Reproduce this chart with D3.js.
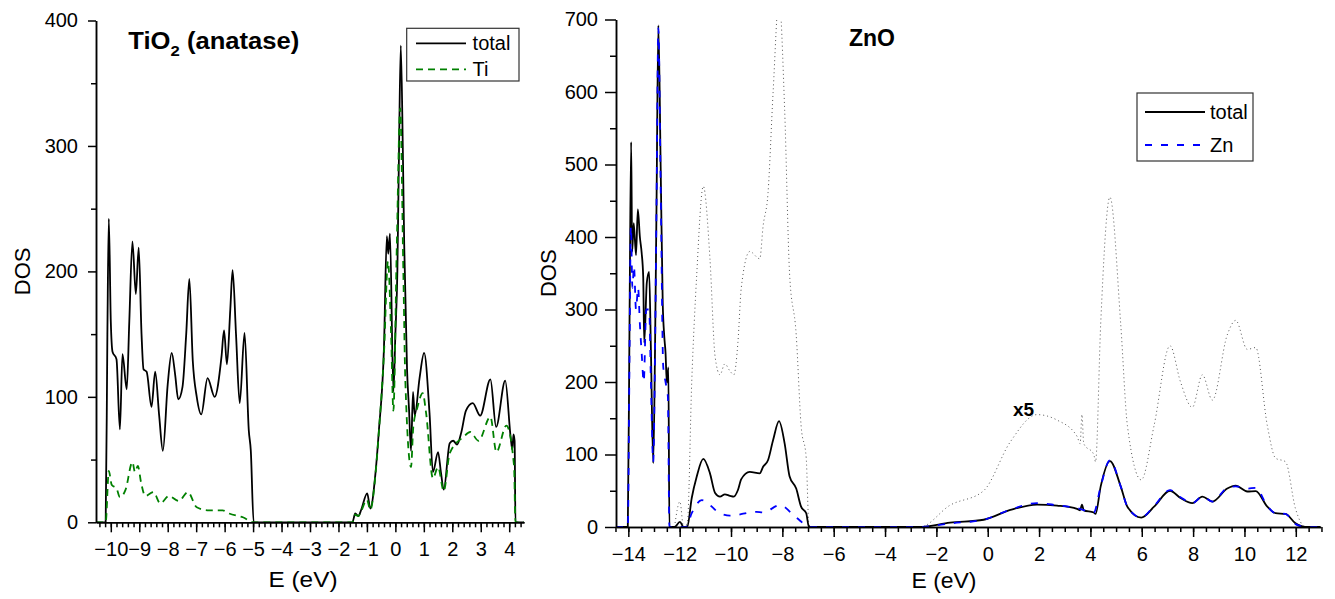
<!DOCTYPE html>
<html>
<head>
<meta charset="utf-8">
<script src="https://cdn.jsdelivr.net/npm/d3@7"></script>
<style>
  body { margin: 0; background: #fff; }
  svg { font-family: "Liberation Sans", Arial, sans-serif; }
  .axis path, .axis line { stroke: #000; stroke-width: 1.5; }
  .axis text { font-size: 20px; fill: #000; }
</style>
</head>
<body>
<svg id="chart" width="1335" height="599"></svg>
<script>
// TiO2 (anatase): [E (eV), DOS]
const tioTotal = [[-10.52,0],[-10.18,0],[-10.12,150],[-10.07,242],[-10.0,160],[-9.94,136],[-9.8,130],[-9.68,74],[-9.59,134],[-9.44,106],[-9.35,160],[-9.24,224],[-9.12,182],[-9.02,219],[-8.92,150],[-8.85,122],[-8.74,120],[-8.57,92],[-8.44,120],[-8.3,85],[-8.17,57],[-8.0,110],[-7.86,135],[-7.74,118],[-7.63,98],[-7.48,108],[-7.35,150],[-7.24,194],[-7.12,129],[-6.98,100],[-6.82,86],[-6.6,115],[-6.35,100],[-6.11,132],[-6.02,153],[-5.92,126],[-5.8,170],[-5.72,201],[-5.6,150],[-5.47,95],[-5.3,151],[-5.15,73],[-5.08,57],[-4.98,0],[-1.51,0],[-1.41,7],[-1.3,5],[-1.2,10],[-0.99,23],[-0.88,11],[-0.7,39],[-0.58,73],[-0.4,140],[-0.3,228],[-0.25,214],[-0.19,230],[-0.07,104],[0.0,150],[0.07,200],[0.13,300],[0.19,380],[0.26,300],[0.31,222],[0.41,122],[0.48,90],[0.55,57],[0.62,104],[0.68,85],[0.85,115],[1.01,135],[1.2,87],[1.32,40],[1.5,56],[1.6,40],[1.7,26],[1.91,63],[2.03,65],[2.17,62],[2.32,72],[2.48,89],[2.72,95],[2.98,85],[3.34,114],[3.54,76],[3.86,113],[4.05,68],[4.11,58],[4.15,70],[4.19,65],[4.22,0],[4.52,0]];
const tioTi = [[-10.52,0],[-10.18,0],[-10.07,41],[-9.97,30],[-9.8,27],[-9.68,20],[-9.48,26],[-9.24,48],[-9.15,40],[-9.05,45],[-8.93,31],[-8.79,21],[-8.5,24],[-8.26,15],[-7.96,21],[-7.61,17],[-7.29,24],[-6.98,12],[-6.55,9.5],[-6.07,9.5],[-5.84,7],[-5.36,4],[-4.98,0],[-1.51,0],[-1.41,6],[-1.3,5],[-1.2,9],[-1.0,18],[-0.88,10],[-0.7,38],[-0.58,72],[-0.4,135],[-0.26,208],[-0.15,150],[-0.07,89],[0.05,220],[0.17,330],[0.28,200],[0.35,113],[0.55,44],[0.63,76],[0.78,92],[0.96,103],[1.08,87],[1.32,35],[1.5,44],[1.7,25],[1.91,55],[2.39,68],[2.63,72],[2.92,65],[3.34,84],[3.55,56],[3.9,77],[4.17,45],[4.22,0],[4.52,0]];

// ZnO: [E (eV), DOS]
const znoTotal = [[-14.48,0],[-14.02,0],[-13.95,300],[-13.89,531],[-13.85,380],[-13.79,419],[-13.7,375],[-13.63,438],[-13.55,400],[-13.48,378],[-13.42,345],[-13.38,254],[-13.28,337],[-13.19,352],[-13.12,244],[-13.03,88],[-12.96,244],[-12.9,450],[-12.83,692],[-12.74,497],[-12.66,309],[-12.6,263],[-12.55,240],[-12.5,199],[-12.44,220],[-12.4,0],[-12.2,0],[-11.99,7],[-11.85,0],[-11.7,1],[-11.53,40],[-11.34,69],[-11.08,94],[-10.82,74],[-10.62,47],[-10.43,42],[-10.24,45],[-10.04,43],[-9.89,42],[-9.73,51],[-9.6,66],[-9.27,76],[-8.88,74],[-8.75,83],[-8.56,92],[-8.36,120],[-8.13,146],[-7.91,115],[-7.72,70],[-7.46,53],[-7.27,28],[-7.07,19],[-6.97,1],[-6.9,0],[-2.64,0],[-1.47,6],[-0.16,10],[0.88,23.5],[1.92,31],[2.7,29.5],[3.48,25],[3.6,23],[3.67,31],[3.74,23],[4.13,20],[4.2,18],[4.4,56],[4.76,91],[5.18,56],[5.44,28],[5.98,13],[6.48,28],[7.1,50],[7.51,40],[7.97,33],[8.36,42],[8.75,35],[9.33,53],[9.66,57],[10.11,49],[10.44,49.5],[10.89,28],[11.21,19],[11.6,18],[11.99,5],[12.38,0],[12.97,0]];
const znoZn = [[-14.48,0],[-14.02,0],[-13.95,250],[-13.9,415],[-13.84,330],[-13.78,360],[-13.7,300],[-13.62,330],[-13.55,280],[-13.48,240],[-13.4,200],[-13.3,300],[-13.19,300],[-13.12,200],[-13.03,90],[-12.96,240],[-12.9,450],[-12.83,688],[-12.74,470],[-12.64,221],[-12.55,200],[-12.46,180],[-12.4,0],[-11.75,0],[-11.53,19],[-11.14,37],[-10.43,19],[-10.04,15.6],[-9.01,21],[-8.75,20],[-8.1,30],[-7.46,13],[-7.0,1],[-6.9,0],[-2.64,0],[-1.47,5],[-0.16,10],[0.88,24],[1.92,33],[2.7,30],[3.48,26],[4.13,20],[4.4,56],[4.76,92],[5.18,56],[5.44,28],[5.98,13],[6.48,29],[7.1,51],[7.51,41],[7.97,33],[8.36,42],[8.75,35],[9.33,54],[9.66,56],[10.11,53],[10.44,54],[10.89,29],[11.21,19],[11.6,18],[11.99,4],[12.38,0],[12.97,0]];
// dotted curve is the total magnified x5 (drawn from this energy on)
const zoomFactor = 5;
const zoomStart = -12.3;

const tioTicks = d3.range(-10, 5, 1);
const znoTicks = d3.range(-14, 13, 2);

const svg = d3.select("#chart");

function drawPanel(p) {
  const x = d3.scaleLinear().domain(p.xDomain).range(p.xRange);
  const y = d3.scaleLinear().domain(p.yDomain).range(p.yRange);

  svg.append("clipPath").attr("id", p.id + "-clip")
    .append("rect")
    .attr("x", p.xRange[0]).attr("y", p.yRange[1])
    .attr("width", p.xRange[1] - p.xRange[0])
    .attr("height", p.yRange[0] - p.yRange[1]);

  const g = svg.append("g").attr("clip-path", `url(#${p.id}-clip)`);
  const line = d3.line().x(d => x(d[0])).y(d => y(d[1])).curve(d3.curveMonotoneX);

  if (p.zoomed) {
    const zoomLine = d3.line().x(d => x(d[0])).y(d => y(d[1] * zoomFactor)).curve(d3.curveMonotoneX);
    g.append("path")
      .datum(p.zoomed)
      .attr("d", zoomLine)
      .attr("fill", "none")
      .attr("stroke", "#555")
      .attr("stroke-width", 1)
      .attr("stroke-dasharray", "1,3");
  }

  p.series.forEach(s => {
    g.append("path")
      .datum(s.data)
      .attr("d", line)
      .attr("fill", "none")
      .attr("stroke", s.color)
      .attr("stroke-width", s.width)
      .attr("stroke-dasharray", s.dash);
  });

  // minor ticks
  svg.append("g").attr("class", "axis")
    .attr("transform", `translate(0,${p.yRange[0]})`)
    .call(d3.axisBottom(x).tickValues(p.xMinor).tickSize(p.xMinorSize).tickSizeOuter(0).tickFormat(""));
  svg.append("g").attr("class", "axis")
    .attr("transform", `translate(${p.xRange[0]},0)`)
    .call(d3.axisLeft(y).tickValues(p.yMinor).tickSize(p.yMinorSize).tickSizeOuter(0).tickFormat(""));

  // major ticks
  svg.append("g").attr("class", "axis")
    .attr("transform", `translate(0,${p.yRange[0]})`)
    .call(d3.axisBottom(x).tickValues(p.xTicks).tickSize(p.xTickSize).tickPadding(p.xPad).tickSizeOuter(0));
  svg.append("g").attr("class", "axis")
    .attr("transform", `translate(${p.xRange[0]},0)`)
    .call(d3.axisLeft(y).tickValues(p.yTicks).tickSize(p.yTickSize).tickPadding(p.yPad).tickSizeOuter(0));

  svg.append("text")
    .attr("transform", `translate(${p.yLabelX},${(p.yRange[0] + p.yRange[1]) / 2}) rotate(-90)`)
    .attr("text-anchor", "middle")
    .attr("font-size", 22)
    .text("DOS");
  svg.append("text")
    .attr("x", p.xLabelX).attr("y", p.xLabelY)
    .attr("text-anchor", "middle")
    .attr("font-size", 22)
    .attr("textLength", p.xLabelW)
    .attr("lengthAdjust", "spacingAndGlyphs")
    .text("E (eV)");

  // legend
  const lg = svg.append("g");
  lg.append("rect")
    .attr("x", p.legend.x).attr("y", p.legend.y)
    .attr("width", p.legend.w).attr("height", p.legend.h)
    .attr("fill", "#fff").attr("stroke", "#333").attr("stroke-width", 1.2);
  p.series.forEach((s, i) => {
    const ly = p.legend.rows[i];
    lg.append("line")
      .attr("x1", p.legend.lx1).attr("x2", p.legend.lx2)
      .attr("y1", ly).attr("y2", ly)
      .attr("stroke", s.color).attr("stroke-width", s.width)
      .attr("stroke-dasharray", s.dash);
    lg.append("text")
      .attr("x", p.legend.tx).attr("y", ly + 7)
      .attr("font-size", 20)
      .text(s.name);
  });
}

drawPanel({
  id: "tio",
  xDomain: [-10.52, 4.52], xRange: [96, 524],
  yDomain: [0, 400], yRange: [522.3, 20.5],
  xTicks: tioTicks, xMinor: d3.range(-10.4, 4.5, 0.2).map(v => +v.toFixed(1)),
  yTicks: [0, 100, 200, 300, 400], yMinor: [50, 150, 250, 350],
  xTickSize: 10, xMinorSize: 5, xPad: 10,
  yTickSize: 8, yMinorSize: 5, yPad: 10,
  yLabelX: 30, xLabelX: 303, xLabelY: 587, xLabelW: 69,
  series: [
    { name: "total", data: tioTotal, color: "#000", width: 1.8, dash: null },
    { name: "Ti", data: tioTi, color: "#008000", width: 1.8, dash: "7,5" }
  ],
  legend: { x: 406.7, y: 28.3, w: 112.3, h: 52.7, lx1: 416, lx2: 466, tx: 472.6, rows: [43.3, 69.3] }
});

drawPanel({
  id: "zno",
  xDomain: [-14.48, 12.97], xRange: [616, 1320.7],
  yDomain: [0, 700], yRange: [527, 19.5],
  xTicks: znoTicks, xMinor: d3.range(-14.5, 13.01, 0.5),
  yTicks: d3.range(0, 701, 100), yMinor: d3.range(50, 700, 100),
  xTickSize: 10, xMinorSize: 5, xPad: 10,
  yTickSize: 11, yMinorSize: 6, yPad: 7,
  yLabelX: 556, xLabelX: 944, xLabelY: 588, xLabelW: 65,
  zoomed: znoTotal.filter(d => d[0] >= zoomStart),
  series: [
    { name: "total", data: znoTotal, color: "#000", width: 1.8, dash: null },
    { name: "Zn", data: znoZn, color: "#0000ff", width: 1.8, dash: "7,9" }
  ],
  legend: { x: 1137, y: 93, w: 116, h: 68, lx1: 1145, lx2: 1205, tx: 1210, rows: [112, 145] }
});

// titles
const t1 = svg.append("text").attr("x", 128.3).attr("y", 49)
  .attr("font-size", 23).attr("font-weight", "bold")
  .attr("textLength", 171).attr("lengthAdjust", "spacingAndGlyphs");
t1.append("tspan").text("TiO");
t1.append("tspan").attr("font-size", 15).attr("dy", 7).text("2");
t1.append("tspan").attr("dy", -7).text(" (anatase)");

svg.append("text").attr("x", 849).attr("y", 46)
  .attr("font-size", 23).attr("font-weight", "bold").text("ZnO");

svg.append("text").attr("x", 1013).attr("y", 416)
  .attr("font-size", 19).attr("font-weight", "bold").text("x5");
</script>
</body>
</html>
